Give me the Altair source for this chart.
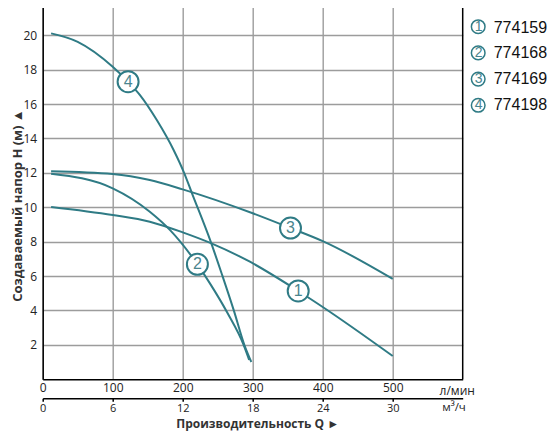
import altair as alt
import pandas as pd

TEAL = "#2f7b85"
NUMC = "#4a858e"
GRID = "#9c9c9c"

MODELS = ["774159", "774168", "774169", "774198"]
NUMS = ["1", "2", "3", "4"]

# curve 1 (774159)
q1 = [12, 100, 153, 200, 241, 296, 365, 400, 500]
h1 = [10.02, 9.55, 9.16, 8.54, 7.9, 6.83, 5.13, 4.2, 1.35]
# curve 2 (774168)
q2 = [12, 100, 153, 182, 221, 240, 264, 287, 295]
h2 = [11.95, 11.1, 9.74, 8.67, 6.68, 5.5, 3.85, 2.0, 1.12]
# curve 3 (774169)
q3 = [12, 100, 153, 200, 300, 354, 400, 500]
h3 = [12.09, 11.93, 11.58, 11.04, 9.65, 8.79, 8.03, 5.83]
# curve 4 (774198)
q4 = [12, 50, 100, 122, 139, 163, 187, 202, 213, 240, 256, 273, 288, 298]
h4 = [20.11, 19.62, 18.17, 17.3, 16.52, 15.07, 13.33, 12.0, 10.84, 8.0, 6.1, 4.0, 2.0, 1.0]

# numbered markers on the curves
label_q = [365, 221, 354, 122]
label_h = [5.13, 6.68, 8.79, 17.3]

x_ticks_lmin = [0, 100, 200, 300, 400, 500]
x_ticks_m3h = [0, 6, 12, 18, 24, 30]
y_ticks = [2, 4, 6, 8, 10, 12, 14, 16, 18, 20]

rows = []
for model, qs, hs in zip(MODELS, [q1, q2, q3, q4], [h1, h2, h3, h4]):
    for i, (q, h) in enumerate(zip(qs, hs)):
        rows.append({"model": model, "q": q, "h": h, "i": i})
curves = pd.DataFrame(rows)
marks = pd.DataFrame({"num": NUMS, "q": label_q, "h": label_h})
sec = pd.DataFrame({"m3h": x_ticks_m3h})
border = pd.DataFrame({"q": [600]})

FONT = "Open Sans"

xscale = alt.Scale(domain=[0, 600], nice=False, zero=False)
yscale = alt.Scale(domain=[0, 22.05], nice=False, zero=False)

x_axis = alt.Axis(
    values=x_ticks_lmin, orient="bottom", grid=True, gridColor=GRID, gridWidth=1.4,
    ticks=False, domainColor="#000", domainWidth=1.5,
    labelFont=FONT, labelFontSize=12, labelColor="#222", labelPadding=3,
    labelFlush=False,
    title="л/мин", titleX=414, titleY=11, titleBaseline="middle", titleAlign="center",
    titleFont=FONT, titleFontSize=12, titleFontWeight="normal", titleColor="#222",
)
y_axis = alt.Axis(
    values=y_ticks, grid=True, gridColor=GRID, gridWidth=1.4,
    ticks=False, domainColor="#000", domainWidth=1.5,
    labelFont=FONT, labelFontSize=12, labelColor="#222", labelPadding=6,
    title="Создаваемый напор H (м) ▲", titleX=-25.2, titleY=205, titleAngle=270,
    titleBaseline="middle", titleAlign="center",
    titleFont=FONT, titleFontSize=13, titleFontWeight="bold", titleColor="#333",
)

lines = alt.Chart(curves).mark_line(interpolate="monotone", strokeWidth=2).encode(
    x=alt.X("q:Q", scale=xscale, axis=x_axis),
    y=alt.Y("h:Q", scale=yscale, axis=y_axis),
    color=alt.Color(
        "model:N",
        scale=alt.Scale(domain=MODELS, range=[TEAL] * 4),
        legend=alt.Legend(
            orient="none", legendX=429.5, legendY=19.8, title=None,
            symbolType="circle", symbolSize=160, symbolOpacity=0, symbolStrokeWidth=1.5,
            labelOffset=5.5, labelFont="Liberation Sans", labelFontSize=16,
            labelColor="#111", labelBaseline="middle", rowPadding=9.6, padding=0,
        ),
    ),
    order="i:Q",
)

rule = alt.Chart(border).mark_rule(color="#000", strokeWidth=1.5).encode(
    x=alt.X("q:Q", scale=xscale)
)

circles = alt.Chart(marks).mark_point(
    shape="circle", fill="white", fillOpacity=1, opacity=1, strokeWidth=2, size=441
).encode(
    x=alt.X("q:Q", scale=xscale),
    y=alt.Y("h:Q", scale=yscale),
    stroke=alt.Stroke(
        "num:N",
        scale=alt.Scale(domain=NUMS, range=[TEAL] * 4),
        legend=alt.Legend(
            orient="none", legendX=427.5, legendY=18.7, title=None,
            symbolType="circle", symbolSize=185, symbolFillColor="white",
            symbolOpacity=1, symbolStrokeWidth=1.5,
            labelOffset={"expr": "-7.5"}, labelAlign="center", labelBaseline="middle",
            labelFont="Liberation Sans", labelFontSize=14, labelColor=NUMC,
            rowPadding=6.2, padding=0,
        ),
    ),
)

digits = alt.Chart(marks).mark_text(
    font="Liberation Sans", fontSize=16, color=NUMC, baseline="middle", align="center"
).encode(
    x=alt.X("q:Q", scale=xscale),
    y=alt.Y("h:Q", scale=yscale),
    text="num:N",
)

main = alt.layer(lines, rule, circles, digits)

secondary = alt.Chart(sec).mark_point(opacity=0).encode(
    x=alt.X(
        "m3h:Q",
        scale=alt.Scale(domain=[0, 36], nice=False, zero=False),
        axis=alt.Axis(
            values=x_ticks_m3h, orient="bottom", offset=19, grid=False,
            ticks=True, tickSize=3, tickColor="#000", tickWidth=1.5,
            domainColor="#000", domainWidth=1.5,
            labelFont=FONT, labelFontSize=11, labelColor="#222", labelPadding=1,
            labelFlush=False,
            title="м³/ч", titleX=399, titleY=9, titleAlign="left",
            titleBaseline="middle", titleFont=FONT, titleFontSize=11.5,
            titleFontWeight="normal", titleColor="#222",
        ),
    )
)

chart = (
    alt.layer(main, secondary)
    .resolve_scale(x="independent")
    .resolve_axis(x="independent")
    .properties(
        width=420,
        height=379.2,
        autosize=alt.AutoSizeParams(type="none"),
        padding={"left": 34.7, "top": -8, "right": 87.3, "bottom": 52.8},
        background="white",
        title=alt.TitleParams(
            "Производительность Q ►", orient="bottom", anchor="middle",
            font=FONT, fontSize=12, fontWeight="bold", color="#333",
            offset=2, dx=5, dy=4,
        ),
    )
    .configure_view(stroke=None)
)

chart.save("out.html", embed_options={"renderer": "svg", "actions": False})
